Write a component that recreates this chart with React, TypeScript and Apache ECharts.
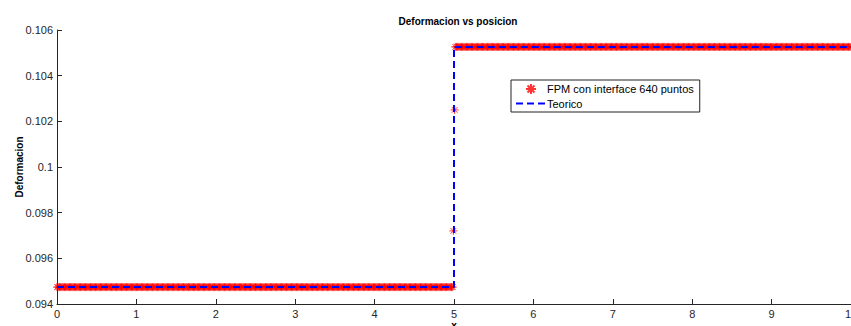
import React, { useEffect, useRef } from "react";
import * as echarts from "echarts";

// ---- Data ----
const nPoints = 640; // "FPM con interface 640 puntos"
const xStart = 0;
const xEnd = 10;
const lowLevel = 0.09474;
const highLevel = 0.10526;
const stepPointsX = [4.992, 5.008];
const stepPointsY = [0.0972, 0.1025];
const theoryX = [0, 5, 5, 10];
const theoryY = [0.09474, 0.09474, 0.10526, 0.10526];
const xTicks = [0, 1, 2, 3, 4, 5, 6, 7, 8, 9, 10];
const yTicks = [0.094, 0.096, 0.098, 0.1, 0.102, 0.104, 0.106];

// FPM series: one point per node, constant on each side plus the two transition nodes
function buildFpm(): number[][] {
  const pts: number[][] = [];
  const dx = (xEnd - xStart) / nPoints;
  for (let i = 0; i <= nPoints; i++) {
    const x = xStart + i * dx;
    if (x < stepPointsX[0] - 1e-9) pts.push([x, lowLevel]);
    else if (x > stepPointsX[1] + 1e-9) pts.push([x, highLevel]);
  }
  for (let i = 0; i < stepPointsX.length; i++) pts.push([stepPointsX[i], stepPointsY[i]]);
  return pts;
}

const asterisk =
  "path://M0,-5L0,5M-5,0L5,0M-3.5,-3.5L3.5,3.5M-3.5,3.5L3.5,-3.5";

export default function App() {
  const ref = useRef<HTMLDivElement>(null);
  useEffect(() => {
    if (!ref.current) return;
    const chart = echarts.init(ref.current, undefined, { renderer: "svg" });
    const font = "Liberation Sans, Arial, Helvetica, sans-serif";
    chart.setOption({
      animation: false,
      backgroundColor: "#ffffff",
      title: {
        text: "Deformacion vs posicion",
        left: 453,
        top: 11,
        textAlign: "center",
        textStyle: { fontFamily: font, fontSize: 10, fontWeight: "bold", color: "#000" },
      },
      grid: {
        left: 57,
        right: 0,
        top: 30,
        bottom: 22,
        containLabel: false,
        outerBoundsMode: "none",
      },
      legend: {
        left: 511,
        top: 80,
        orient: "vertical",
        backgroundColor: "#fff",
        borderColor: "#222",
        borderWidth: 1,
        borderRadius: 0,
        padding: [3, 6, 3, 4],
        itemGap: 3,
        itemWidth: 30,
        itemHeight: 10,
        textStyle: { fontFamily: font, fontSize: 11, color: "#000", padding: [0, 0, 0, -4] },
        data: [
          { name: "FPM con interface 640 puntos" },
          { name: "Teorico", itemStyle: { opacity: 0 } },
        ],
      },
      xAxis: {
        type: "value",
        min: xTicks[0],
        max: xTicks[xTicks.length - 1],
        interval: 1,
        name: "x",
        nameLocation: "middle",
        nameGap: 16,
        nameMoveOverlap: false,
        nameTextStyle: { fontFamily: font, fontSize: 10, fontWeight: "bold", color: "#000" },
        axisLine: { lineStyle: { color: "#262626", width: 1 } },
        axisTick: { inside: true, length: 5, lineStyle: { color: "#262626" } },
        axisLabel: { fontFamily: font, fontSize: 11, color: "#262626", margin: 4 },
        splitLine: { show: false },
      },
      yAxis: {
        type: "value",
        min: yTicks[0],
        max: yTicks[yTicks.length - 1],
        interval: 0.002,
        name: "Deformacion",
        nameLocation: "middle",
        nameGap: 33,
        nameMoveOverlap: false,
        nameTextStyle: { fontFamily: font, fontSize: 10, fontWeight: "bold", color: "#000" },
        axisLine: { show: true, lineStyle: { color: "#262626", width: 1 } },
        axisTick: { show: true, inside: true, length: 5, lineStyle: { color: "#262626" } },
        axisLabel: {
          fontFamily: font,
          fontSize: 11,
          color: "#262626",
          margin: 4,
          formatter: (v: number) => parseFloat(v.toFixed(3)).toString(),
        },
        splitLine: { show: false },
      },
      series: [
        {
          name: "FPM con interface 640 puntos",
          type: "scatter",
          symbol: asterisk,
          symbolSize: 8,
          itemStyle: { color: "transparent", borderColor: "#ff0000", borderWidth: 1 },
          data: buildFpm(),
          z: 2,
        },
        {
          name: "Teorico",
          type: "line",
          symbol: "none",
          lineStyle: { color: "#0000ff", width: 2, type: [7, 4] },
          itemStyle: { color: "#0000ff" },
          data: theoryX.map((x, i) => [x, theoryY[i]]),
          z: 3,
        },
      ],
    });
    return () => chart.dispose();
  }, []);
  return (
    <div
      ref={ref}
      style={{ position: "fixed", left: 0, top: 0, width: 851, height: 326 }}
    />
  );
}
